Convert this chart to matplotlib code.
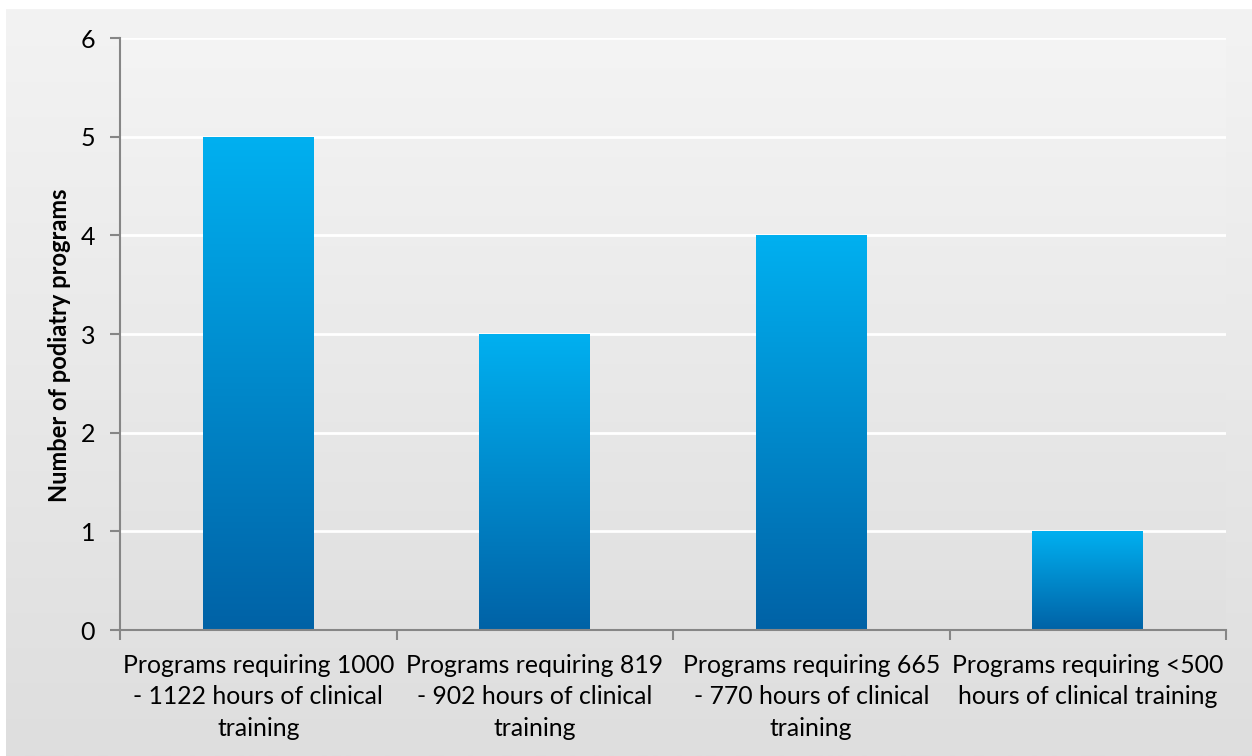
import numpy as np
import matplotlib
matplotlib.use("Agg")
import matplotlib.pyplot as plt
from matplotlib.colors import LinearSegmentedColormap

categories = [
    "Programs requiring 1000\n- 1122 hours of clinical\ntraining",
    "Programs requiring 819\n- 902 hours of clinical\ntraining",
    "Programs requiring 665\n- 770 hours of clinical\ntraining",
    "Programs requiring <500\nhours of clinical training",
]
values = [5, 3, 4, 1]
yticks = [0, 1, 2, 3, 4, 5, 6]
ylabel = "Number of podiatry programs"

plt.rcParams['font.family'] = ['Lato', 'DejaVu Sans']

W, H = 1252, 756
fig = plt.figure(figsize=(W / 100, H / 100), dpi=100)
fig.patch.set_facecolor("white")

# chart-area background gradient
bg = fig.add_axes([6 / W, 0, 1 - 6 / W, 1 - 9 / H], zorder=-10)
bg.axis("off")
grad = np.linspace(0, 1, 256).reshape(-1, 1)
bg_cmap = LinearSegmentedColormap.from_list("bg", ["#f3f3f3", "#dedede"])
bg.imshow(grad, aspect="auto", cmap=bg_cmap, extent=[0, 1, 0, 1], origin="upper")
bg.set_xlim(0, 1)
bg.set_ylim(0, 1)

left, right, top, bottom = 120, 1226, 38, 630
ax = fig.add_axes([left / W, 1 - bottom / H, (right - left) / W, (bottom - top) / H])
ax.set_facecolor("none")

n = len(values)
x = np.arange(n)
ax.set_xlim(-0.5, n - 0.5)
ax.set_ylim(0, 6)

# plot-area gradient
pa_cmap = LinearSegmentedColormap.from_list("pa", ["#f4f4f4", "#e0e0e0"])
ax.imshow(grad, aspect="auto", cmap=pa_cmap, extent=[-0.5, n - 0.5, 0, 6],
          origin="upper", zorder=0)

ax.set_yticks(yticks)
ax.yaxis.grid(True, color="white", linewidth=2, zorder=1)
ax.set_axisbelow(False)

bar_cmap = LinearSegmentedColormap.from_list("bar", ["#00b0f0", "#0062a6"])
bars = ax.bar(x, values, width=0.4, color="none", zorder=3)
for b in bars:
    x0, y0 = b.get_x(), b.get_y()
    w, h = b.get_width(), b.get_height()
    im = ax.imshow(grad, aspect="auto", cmap=bar_cmap,
                   extent=[x0, x0 + w, y0, y0 + h], origin="upper", zorder=3)
    im.set_clip_path(b)

ax.set_xlim(-0.5, n - 0.5)
ax.set_ylim(0, 6)

for s in ["top", "right"]:
    ax.spines[s].set_visible(False)
for s in ["left", "bottom"]:
    ax.spines[s].set_color("#868686")
    ax.spines[s].set_linewidth(1.5)
    ax.spines[s].set_zorder(4)

ax.set_xticks(x)
ax.set_xticklabels(categories, fontsize=17.8, linespacing=1.45)
ax.tick_params(axis="x", length=0, pad=17)
ax.set_xticks(np.arange(-0.5, n, 1), minor=True)
ax.tick_params(axis="x", which="minor", length=7, width=1.5, color="#868686")
ax.tick_params(axis="y", length=7, width=1.5, color="#868686", labelsize=18, pad=11)

fig.text(60 / W, 1 - 345 / H, ylabel, rotation=90, fontsize=17, fontweight="bold",
         ha="center", va="center")

fig.savefig("out.png", dpi=100)
